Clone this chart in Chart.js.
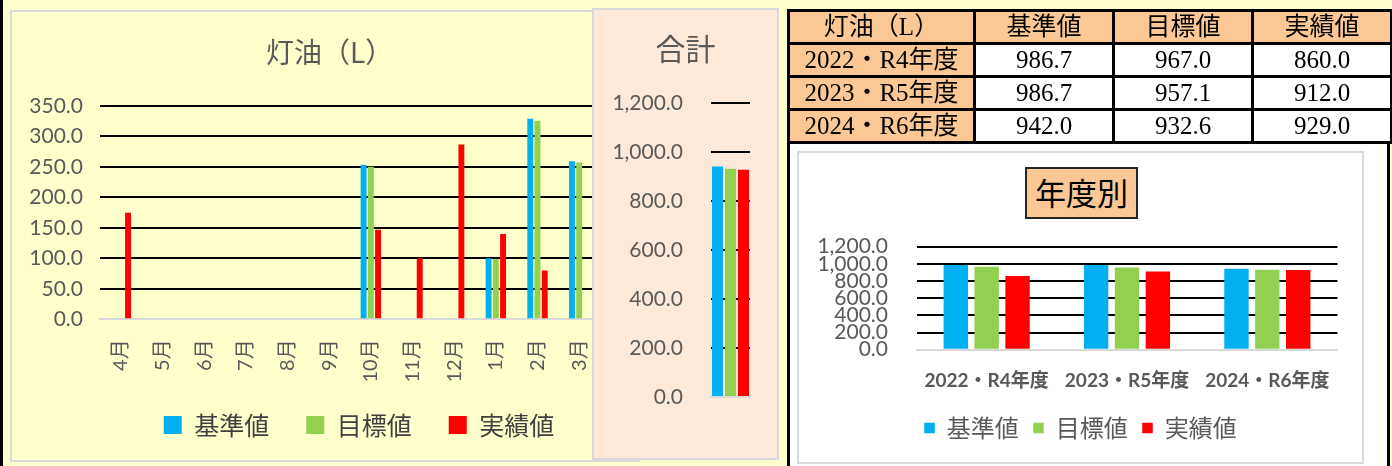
<!DOCTYPE html>
<html lang="ja">
<head>
<meta charset="utf-8">
<script src="https://cdn.jsdelivr.net/npm/chart.js@4.4.1/dist/chart.umd.min.js"></script>
<style>
  html, body { margin: 0; padding: 0; }
  body { width: 1392px; height: 466px; position: relative; overflow: hidden; background: #FFFFCC; font-family: 'Noto Sans CJK JP', sans-serif; }
  .abs { position: absolute; box-sizing: border-box; }
  #leftBar { left: 0; top: 0; width: 3px; height: 466px; background: #000; z-index: 1; }
  #monthPanel { left: 10px; top: 10px; width: 630px; height: 452px; border: 2px solid #D9D9D9; z-index: 1; }
  #monthCanvas { left: 10px; top: 10px; z-index: 2; }
  #monthTitle { left: 266px; top: 32px; font-size: 28px; line-height: 38px; color: #595959; white-space: nowrap; z-index: 3; }
  #totalPanel { left: 592px; top: 8px; width: 187px; height: 452px; background: #FDE9D9; border: 2px solid #D9D9D9; z-index: 4; }
  #totalCanvas { left: 594px; top: 10px; z-index: 5; }
  #rightCol { left: 787px; top: 9px; width: 603px; height: 470px; background: #fff; border-left: 3px solid #000; border-right: 3px solid #000; z-index: 6; }
  #tbl { position: absolute; left: 787px; top: 9px; width: 603px; border-collapse: collapse; table-layout: fixed; z-index: 7; }
  #tbl td { border: 3px solid #000; height: 30px; padding: 0; text-align: center; font-family: 'Liberation Serif', 'Noto Sans CJK JP', serif; font-size: 25px; line-height: 28px; color: #000; background: #fff; white-space: nowrap; }
  #tbl tr:first-child td, #tbl td:first-child { background: #FBC895; }
  #yearPanel { left: 797px; top: 151px; width: 567px; height: 313px; background: #fff; border: 2px solid #D9D9D9; z-index: 8; }
  #yearCanvas { left: 799px; top: 153px; z-index: 9; }
  #yearTitle { left: 1025px; top: 167px; width: 113px; height: 52px; background: #FBC895; border: 2px solid #262626; font-size: 31px; line-height: 46px; text-align: center; color: #000; z-index: 10; }
</style>
</head>
<body>
<div id="leftBar" class="abs"></div>
<div id="monthPanel" class="abs"></div>
<canvas id="monthCanvas" class="abs" width="698" height="452"></canvas>
<div id="monthTitle" class="abs"></div>
<div id="totalPanel" class="abs"></div>
<canvas id="totalCanvas" class="abs" width="183" height="447"></canvas>
<div id="rightCol" class="abs"></div>
<table id="tbl"></table>
<div id="yearPanel" class="abs"></div>
<canvas id="yearCanvas" class="abs" width="563" height="308"></canvas>
<div id="yearTitle" class="abs"></div>
<script>
// 灯油の使用量: 月別・合計・年度別
const TITLE = '灯油（L）'
const SERIES = ['基準値', '目標値', '実績値']
const COLORS = ['#00B0F0', '#92D050', '#FF0000']

const MONTHS = ['4月', '5月', '6月', '7月', '8月', '9月', '10月', '11月', '12月', '1月', '2月', '3月']
const BASE_MONTHLY = [null, null, null, null, null, null, 253.5, null, null, 100.0, 329.0, 259.5]
const TARGET_MONTHLY = [null, null, null, null, null, null, 250.5, null, null, 99.0, 326.0, 257.1]
const ACTUAL_MONTHLY = [175.0, null, null, null, null, null, 147.0, 100.0, 287.0, 140.0, 80.0, null]

const YEARS = ['2022・R4年度', '2023・R5年度', '2024・R6年度']
const BASE_YEARLY = [986.7, 986.7, 942.0]
const TARGET_YEARLY = [967.0, 957.1, 932.6]
const ACTUAL_YEARLY = [860.0, 912.0, 929.0]

const MONTH_TICKS = [0, 350, 50]
const YEAR_TICKS = [0, 1200, 200]

const NUM_FONT = "Lato, 'Noto Sans CJK JP', sans-serif"
const JP_FONT = "'Noto Sans CJK JP', sans-serif"

Chart.defaults.font.family = NUM_FONT
Chart.defaults.color = '#595959'
Chart.defaults.animation = false

const fixWidth = (w) => (scale) => { scale.width = w }
const fixHeight = (h) => (scale) => { scale.height = h }
const fmt1 = (v) => Number(v).toLocaleString('en-US', { minimumFractionDigits: 1, maximumFractionDigits: 1 })
// the 0 line is covered by the grey axis border
const gridColor = (ctx) => (ctx.tick && ctx.tick.value === 0 ? 'rgba(0,0,0,0)' : '#000')

const makeSets = (lists, extra) =>
  lists.map((data, i) => ({ label: SERIES[i], data, backgroundColor: COLORS[i], borderWidth: 0, ...extra }))

const spacer = (w) => ({
  type: 'linear', axis: 'y', position: 'right',
  grid: { display: false }, border: { display: false }, ticks: { display: false },
  afterFit: fixWidth(w)
})

const valueAxis = ([min, max, step], pad, width, fmt) => ({
  min, max,
  grid: { color: gridColor, lineWidth: 2, drawTicks: false },
  border: { display: false },
  ticks: { stepSize: step, autoSkip: false, padding: pad, callback: fmt, font: { size: 21 } },
  afterFit: fixWidth(width)
})

document.getElementById('monthTitle').textContent = TITLE
document.getElementById('yearTitle').textContent = '年度別'

// tabla resumen
const tbl = document.getElementById('tbl')
const colW = [186, 139, 139, 139]
tbl.innerHTML = '<colgroup>' + colW.map((w) => `<col style="width:${w}px">`).join('') + '</colgroup>' +
  `<tr>${[TITLE, ...SERIES].map((t) => `<td>${t}</td>`).join('')}</tr>` +
  YEARS.map((y, i) =>
    `<tr><td>${y}</td><td>${BASE_YEARLY[i].toFixed(1)}</td><td>${TARGET_YEARLY[i].toFixed(1)}</td><td>${ACTUAL_YEARLY[i].toFixed(1)}</td></tr>`
  ).join('')

// 月別
new Chart(document.getElementById('monthCanvas'), {
  type: 'bar',
  data: {
    labels: MONTHS,
    datasets: makeSets([BASE_MONTHLY, TARGET_MONTHLY, ACTUAL_MONTHLY], { categoryPercentage: 0.52, barPercentage: 0.82 })
  },
  options: {
    responsive: false,
    layout: { padding: { top: 96, bottom: 14.5 } },
    plugins: {
      legend: {
        position: 'bottom',
        labels: { boxWidth: 18, boxHeight: 18, padding: 37, color: '#404040', font: { family: JP_FONT, size: 25 } }
      },
      tooltip: { enabled: false }
    },
    scales: {
      x: {
        grid: { display: false },
        border: { color: '#D9D9D9', width: 2 },
        ticks: { autoSkip: false, minRotation: 90, maxRotation: 90, padding: 12, font: { size: 20 } },
        afterFit: (scale) => {
          scale.height = 56.2
          // labels run down into the legend's padding, do not clip them
          scale._computeLabelArea = () => undefined
        }
      },
      y: valueAxis(MONTH_TICKS, 17, 90, (v) => v.toFixed(1)),
      pad: spacer(108)
    }
  }
})

// 合計 (2024年度)
const last = YEARS.length - 1
new Chart(document.getElementById('totalCanvas'), {
  type: 'bar',
  data: {
    labels: ['合計'],
    datasets: makeSets([[BASE_YEARLY[last]], [TARGET_YEARLY[last]], [ACTUAL_YEARLY[last]]], { categoryPercentage: 1, barPercentage: 0.85 })
  },
  options: {
    responsive: false,
    plugins: {
      legend: { display: false },
      title: {
        display: true, text: '合計', color: '#595959',
        font: { family: JP_FONT, size: 30, weight: 'normal' },
        padding: { top: 21, bottom: 36.3 }
      },
      tooltip: { enabled: false }
    },
    scales: {
      x: {
        grid: { display: false },
        border: { color: '#D9D9D9', width: 2 },
        ticks: { display: false },
        afterFit: fixHeight(60)
      },
      y: valueAxis(YEAR_TICKS, 28, 117, fmt1),
      pad: spacer(27)
    }
  }
})

// 年度別
new Chart(document.getElementById('yearCanvas'), {
  type: 'bar',
  data: {
    labels: YEARS,
    datasets: makeSets([BASE_YEARLY, TARGET_YEARLY, ACTUAL_YEARLY], { categoryPercentage: 0.66, barPercentage: 0.79 })
  },
  options: {
    responsive: false,
    layout: { padding: { top: 93.7, bottom: 11 } },
    plugins: {
      legend: {
        position: 'bottom',
        labels: { boxWidth: 10.5, boxHeight: 10.5, padding: 14.5, color: '#595959', font: { family: JP_FONT, size: 24 } }
      },
      tooltip: { enabled: false }
    },
    scales: {
      x: {
        grid: { display: false },
        border: { color: '#D9D9D9', width: 2 },
        ticks: { maxRotation: 0, padding: 12, font: { size: 19, weight: 'bold' } },
        afterFit: (scale) => {
          scale.height = 51.8
          scale._computeLabelArea = () => undefined
        }
      },
      y: valueAxis(YEAR_TICKS, 28.5, 117.5, fmt1),
      pad: spacer(24.5)
    }
  }
})
</script>
</body>
</html>
